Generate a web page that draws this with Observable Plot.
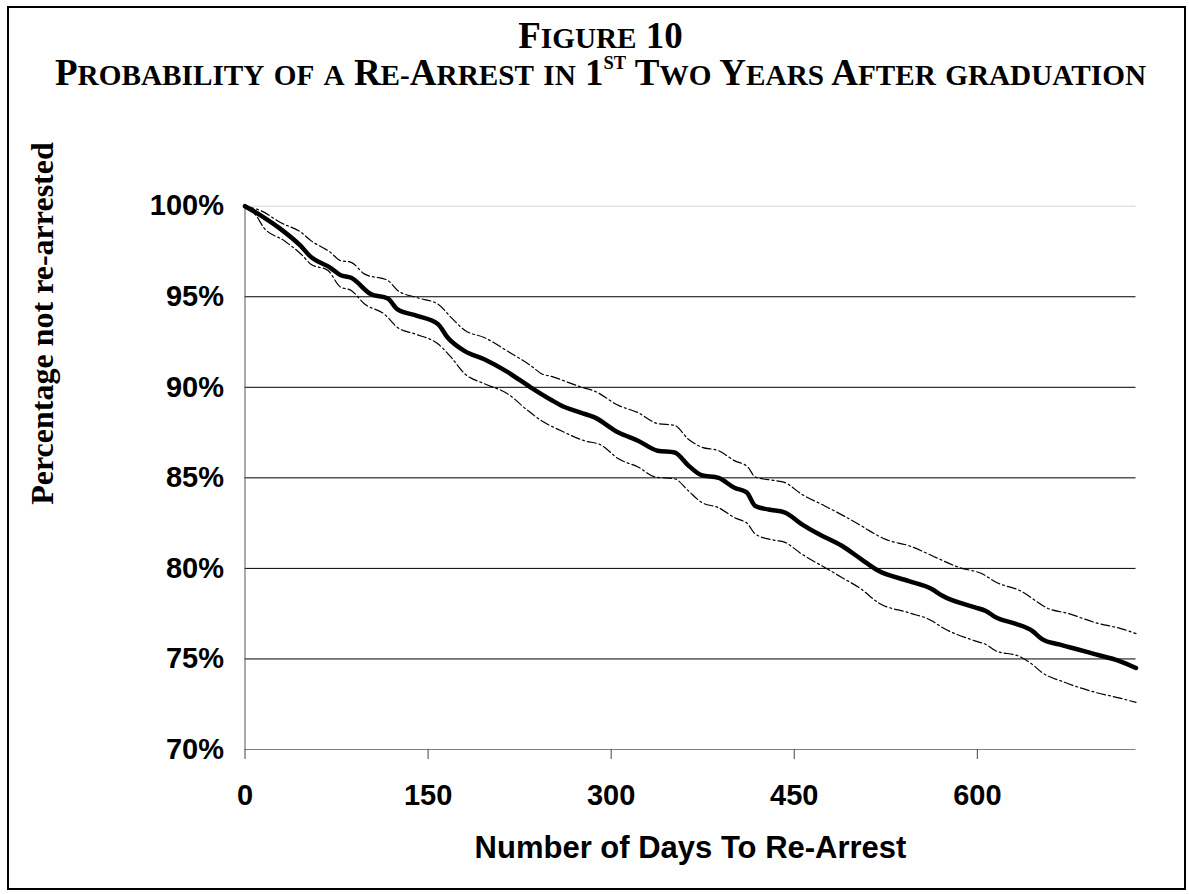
<!DOCTYPE html>
<html>
<head>
<meta charset="utf-8">
<script src="https://cdn.jsdelivr.net/npm/d3@7"></script>
<script src="https://cdn.jsdelivr.net/npm/@observablehq/plot@0.6"></script>
<style>
  html, body { margin: 0; padding: 0; background: #fff; }
  #page { position: relative; width: 1189px; height: 894px; overflow: hidden; background: #fff; }
  #frame { position: absolute; left: 7px; top: 6px; width: 1175px; height: 880px; border: 2px solid #000; pointer-events: none; }
  .tline { position: absolute; left: 0; width: 1201px; text-align: center; white-space: nowrap;
           font-family: "Times New Roman", "Liberation Serif", serif; font-weight: bold; color: #000;
           font-size: 35px; line-height: 1; }
  .tline .in { display: inline-block; }
  .sc { font-size: 0.79em; }
  .sup { font-size: 0.5em; position: relative; top: -0.85em; }
  #chart { position: absolute; left: 0; top: 110px; }
</style>
</head>
<body>
<div id="page">
  <div id="t1" class="tline"><span class="in"></span></div>
  <div id="t2" class="tline"><span class="in"></span></div>
  <div id="chart"></div>
  <div id="frame"></div>
</div>
<script>
// ---- data ----
const titleLine1 = "Figure 10";
const titleLine2a = "Probability of a Re-Arrest in 1";
const titleSup = "st";
const titleLine2b = " Two Years After graduation";
const xLabel = "Number of Days To Re-Arrest";
const yLabel = "Percentage not re-arrested";

const xTicks = [0, 150, 300, 450, 600];
const yTicks = [70, 75, 80, 85, 90, 95, 100];
const yGrid = [75, 80, 85, 90, 95];

// survival estimate (days, % not re-arrested)
const mainDays = [0, 15, 29, 45, 54, 70, 78, 87, 103, 117, 125, 141, 158, 166, 180, 196, 215, 234, 251, 259, 275, 286, 306, 322, 338, 352, 363, 374, 388, 401, 411, 418, 429, 442, 456, 470, 489, 505, 519, 544, 563, 571, 598, 607, 615, 631, 645, 653, 667, 681, 697, 716, 730];
const mainPct  = [100, 99.4, 98.75, 97.85, 97.2, 96.6, 96.2, 96.05, 95.15, 94.9, 94.3, 93.95, 93.5, 92.75, 92.0, 91.55, 90.85, 90.0, 89.3, 89.0, 88.6, 88.35, 87.5, 87.05, 86.5, 86.4, 85.7, 85.15, 85.0, 84.45, 84.2, 83.45, 83.25, 83.1, 82.45, 81.9, 81.25, 80.5, 79.87, 79.3, 78.85, 78.5, 77.85, 77.65, 77.3, 76.95, 76.55, 76.1, 75.8, 75.55, 75.25, 74.9, 74.5];

// upper confidence bound
const upperDays = [0, 13, 29, 46, 54, 70, 78, 87, 98, 117, 125, 141, 158, 169, 180, 196, 215, 234, 243, 251, 276, 286, 306, 322, 338, 352, 363, 374, 388, 401, 412, 418, 434, 442, 456, 475, 505, 511, 525, 544, 563, 571, 585, 604, 615, 637, 648, 656, 675, 697, 719, 730];
const upperPct  = [100, 99.75, 99.1, 98.55, 98.1, 97.45, 97.0, 96.9, 96.25, 95.9, 95.35, 94.95, 94.6, 93.85, 93.15, 92.75, 92.0, 91.2, 90.75, 90.6, 90.0, 89.8, 89.0, 88.6, 88.0, 87.9, 87.15, 86.7, 86.5, 85.95, 85.6, 85.05, 84.85, 84.75, 84.1, 83.45, 82.35, 82.1, 81.6, 81.25, 80.7, 80.45, 80.05, 79.7, 79.25, 78.7, 78.2, 77.85, 77.5, 77.0, 76.65, 76.4];

// lower confidence bound
const lowerDays = [0, 10, 15, 32, 46, 54, 68, 78, 87, 98, 114, 125, 139, 158, 169, 180, 196, 215, 232, 243, 259, 278, 292, 306, 322, 336, 352, 363, 374, 388, 401, 412, 418, 434, 442, 456, 475, 489, 505, 519, 544, 563, 571, 598, 607, 615, 634, 645, 653, 672, 697, 716, 730];
const lowerPct  = [100, 99.4, 98.85, 98.1, 97.35, 96.8, 96.45, 95.55, 95.35, 94.6, 94.05, 93.3, 92.95, 92.4, 91.65, 90.75, 90.2, 89.65, 88.7, 88.15, 87.6, 87.05, 86.8, 86.05, 85.6, 85.05, 84.95, 84.3, 83.65, 83.35, 82.8, 82.45, 81.9, 81.55, 81.45, 80.8, 80.05, 79.5, 78.85, 78.1, 77.55, 77.1, 76.75, 76.0, 75.8, 75.45, 75.15, 74.7, 74.25, 73.7, 73.15, 72.85, 72.6];

// ---- title (small caps built by hand) ----
function smallCaps(str) {
  let html = "";
  for (const ch of str) {
    if (ch === " ") { html += " "; }
    else if (ch !== ch.toUpperCase() || ch === "-") { html += `<span class="sc">${ch.toUpperCase()}</span>`; }
    else { html += ch; }
  }
  return html;
}
const t1 = document.getElementById("t1"), t2 = document.getElementById("t2");
t1.querySelector(".in").innerHTML = smallCaps(titleLine1);
t2.querySelector(".in").innerHTML = smallCaps(titleLine2a) +
  `<span class="sup">${titleSup.toUpperCase()}</span>` + smallCaps(titleLine2b);

// fit line 2 to its measured width in the reference, then place both baselines
const targetWidth = 1091;
const w0 = t2.querySelector(".in").getBoundingClientRect().width;
const F = 35 * targetWidth / w0;
for (const el of [t1, t2]) el.style.fontSize = F + "px";
function placeBaseline(el, baseline) {
  // line-height:1 -> baseline sits at top + (F - 1.107F)/2 + 0.891F
  const off = (F - 1.107 * F) / 2 + 0.891 * F;
  el.style.top = (baseline - off) + "px";
}
placeBaseline(t1, 48);
placeBaseline(t2, 85);

// ---- chart ----
const toRows = (days, pct) => days.map((d, i) => ({day: d, pct: pct[i]}));
const mainRows = toRows(mainDays, mainPct);
const upperRows = toRows(upperDays, upperPct);
const lowerRows = toRows(lowerDays, lowerPct);

const W = 1189, H = 784;
const mL = 244.5, mR = 53.5, mT = 95.7, mB = 145;

const chart = Plot.plot({
  width: W,
  height: H,
  marginLeft: mL,
  marginRight: mR,
  marginTop: mT,
  marginBottom: mB,
  style: {
    background: "transparent",
    fontFamily: "Arial, 'Liberation Sans', sans-serif",
    fontSize: "29px",
    fontWeight: "bold",
    color: "#000"
  },
  x: {domain: [0, 730]},
  y: {domain: [70, 100]},
  marks: [
    Plot.ruleY([100], {stroke: "#d4d4d4", strokeWidth: 1}),
    Plot.ruleY(yGrid, {stroke: "#000", strokeWidth: 1}),
    Plot.ruleX([0], {stroke: "#555", strokeWidth: 1}),
    Plot.ruleY([70], {stroke: "#808080", strokeWidth: 1.2}),
    Plot.axisX({ticks: xTicks, tickSize: 10, tickPadding: 25, tickFormat: d => String(d),
                label: null, stroke: "#444", fontSize: 29, fontWeight: "bold"}),
    Plot.axisY({ticks: yTicks, tickSize: 0, tickPadding: 21, tickFormat: d => d + "%",
                label: null, fontSize: 29, fontWeight: "bold"}),
    Plot.line(upperRows, {x: "day", y: "pct", curve: "monotone-x", stroke: "#000", strokeWidth: 1.2, strokeDasharray: "9,3,2,3"}),
    Plot.line(lowerRows, {x: "day", y: "pct", curve: "monotone-x", stroke: "#000", strokeWidth: 1.2, strokeDasharray: "9,3,2,3"}),
    Plot.line(mainRows, {x: "day", y: "pct", curve: "monotone-x", stroke: "#000", strokeWidth: 4.5, strokeLinejoin: "round", strokeLinecap: "round"}),
    Plot.text([xLabel], {text: d => d, frameAnchor: "bottom", dy: 98.4, lineAnchor: "middle",
                         fontSize: 31, fontWeight: "bold", fontFamily: "Arial, 'Liberation Sans', sans-serif"}),
    Plot.text([yLabel], {text: d => d, frameAnchor: "top-left", dx: 42 - mL, dy: (323 - 110) - mT,
                         rotate: -90, textAnchor: "middle", lineAnchor: "middle",
                         fontSize: 32, fontWeight: "bold", fontFamily: "'Times New Roman', 'Liberation Serif', serif"})
  ]
});
document.getElementById("chart").appendChild(chart);
</script>
</body>
</html>
